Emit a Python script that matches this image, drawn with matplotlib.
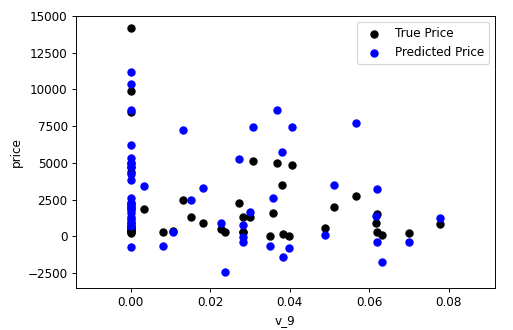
import matplotlib
matplotlib.use("Agg")
import matplotlib.pyplot as plt

# v_9 values with true and predicted prices
v_9 = [0.0] * 18 + [
    0.0033, 0.008, 0.0106, 0.0131, 0.0151, 0.0181, 0.0228, 0.0237,
    0.0273, 0.0282, 0.0282, 0.0283, 0.0300, 0.0307, 0.0350, 0.0357,
    0.0367, 0.0380, 0.0383, 0.0397, 0.0405, 0.0488, 0.0511, 0.0566,
    0.0616, 0.0619, 0.0619, 0.0631, 0.0699, 0.0777,
]
true_price = [
    14160, 9910, 8480, 5000, 4700, 4400, 2300, 1800, 1200, 900, 600, 430,
    300, 350, 250, 500, 700, 2000,
    1860, 290, 350, 2470, 1310, 900, 500, 290,
    2260, 1320, 290, 300, 1320, 5130, 20, 1590,
    4990, 3490, 160, 20, 4850, 570, 1990, 2740,
    900, 1520, 290, 90, 220, 840,
]
pred_price = [
    11180, 10390, 8600, 6220, 5300, 5000, 4700, 4250, 3830, 2600, 2300, 1900,
    1600, 1300, 1000, 700, -730, 2100,
    3420, -660, 290, 7240, 2470, 3290, 900, -2430,
    5260, 770, -390, -50, 1650, 7440, -660, 2610,
    8600, 5730, -1410, -800, 7440, 90, 3490, 7710,
    1380, 3220, -390, -1750, -390, 1250,
]

DPI = 86
fig = plt.figure(figsize=(513 / DPI, 330 / DPI), dpi=DPI)
ax = fig.add_axes([76 / 513, 42 / 330, 419 / 513, 272 / 330])

ax.scatter(v_9, true_price, color="black", label="True Price")
ax.scatter(v_9, pred_price, color="blue", label="Predicted Price")

ax.set_xlim(-0.0138, 0.0916)
ax.set_ylim(-3520, 15000)
ax.set_xticks([0.0, 0.02, 0.04, 0.06, 0.08])
ax.set_xlabel("v_9")
ax.set_ylabel("price")
ax.legend(loc="upper right")

fig.savefig("out.png", dpi=DPI)
